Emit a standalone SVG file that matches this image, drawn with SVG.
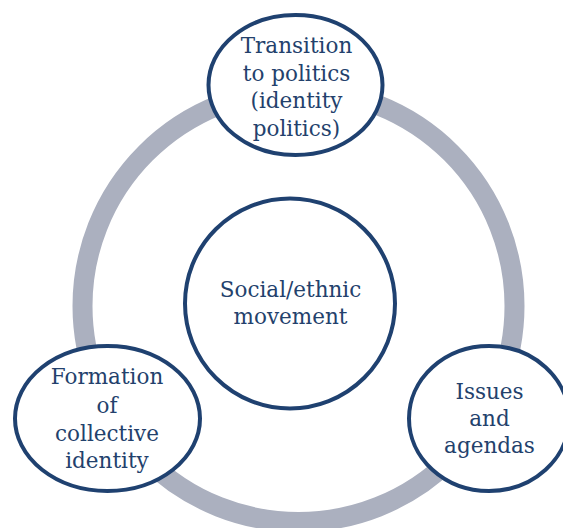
<svg xmlns="http://www.w3.org/2000/svg" width="563" height="528" viewBox="0 0 563 528">
<style>
.node{fill:#ffffff;stroke:#1f4170;stroke-width:4}
text{font-family:'DejaVu Serif','Liberation Serif',serif;font-size:21.5px;fill:#23416c;text-anchor:middle}
</style>
<rect width="563" height="528" fill="#ffffff"/>
<g id="connectors">
<circle cx="298.5" cy="306" r="216" fill="none" stroke="#abb0bf" stroke-width="20"/>
</g>
<g id="center">
<circle class="node" cx="290" cy="303.5" r="105"/>
<text x="290.5" y="297">Social/ethnic</text>
<text x="290.5" y="324">movement</text>
</g>
<g id="top">
<ellipse class="node" cx="295.5" cy="85" rx="87" ry="70"/>
<text x="296.5" y="53">Transition</text>
<text x="296.5" y="81">to politics</text>
<text x="296.5" y="108">(identity</text>
<text x="296.5" y="136">politics)</text>
</g>
<g id="left">
<ellipse class="node" cx="107.5" cy="418.5" rx="92.5" ry="72.5"/>
<text x="107" y="384">Formation</text>
<text x="107" y="413">of</text>
<text x="107" y="441">collective</text>
<text x="107" y="468">identity</text>
</g>
<g id="right">
<ellipse class="node" cx="489" cy="418.5" rx="80" ry="72.5"/>
<text x="489.5" y="399">Issues</text>
<text x="489.5" y="426">and</text>
<text x="489.5" y="453">agendas</text>
</g>
</svg>
